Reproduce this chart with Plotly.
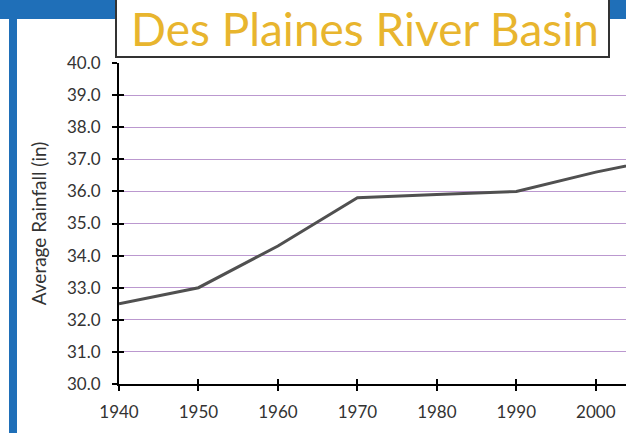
import plotly.graph_objects as go

# Data
years = [1940, 1950, 1960, 1970, 1980, 1990, 2000, 2010]
rainfall = [32.5, 33.0, 34.3, 35.8, 35.9, 36.0, 36.6, 37.1]
y_ticks = [30, 31, 32, 33, 34, 35, 36, 37, 38, 39, 40]
x_ticks = [1940, 1950, 1960, 1970, 1980, 1990, 2000]

W, H = 626, 433
L, R, T, B = 119, 0, 63, 49
pw, ph = W - L - R, H - T - B


def px(x):
    return (x - L) / pw


def py(y):
    return (H - B - y) / ph


blue = '#1f6fb8'
font = 'Lato'

fig = go.Figure()

fig.add_trace(go.Scatter(
    x=years, y=rainfall, mode='lines',
    line=dict(color='#505050', width=3),
    showlegend=False, hoverinfo='x+y'
))
# invisible copy so the overlay axis (inner half of the cross ticks) is drawn
fig.add_trace(go.Scatter(
    x=years, y=rainfall, mode='lines', xaxis='x2', yaxis='y2',
    line=dict(width=0), opacity=0, showlegend=False, hoverinfo='skip'
))

axis_common = dict(
    showline=True, linecolor='black', linewidth=2,
    ticks='outside', ticklen=5, tickwidth=2, tickcolor='black',
    tickfont=dict(family=font, size=17, color='#333333'),
    zeroline=False,
)

fig.update_layout(
    width=W, height=H,
    margin=dict(l=L, r=R, t=T, b=B),
    paper_bgcolor='white',
    plot_bgcolor='white',
    xaxis=dict(
        range=[1940, 2003.8], tickvals=x_ticks, showgrid=False,
        ticklabelstandoff=7, **axis_common
    ),
    yaxis=dict(
        range=[30, 40], tickvals=y_ticks, tickformat='.1f',
        showgrid=True, gridcolor='#bb98cf', gridwidth=1,
        ticklabelstandoff=8,
        title=dict(text='Average Rainfall (in)', standoff=15,
                   font=dict(family=font, size=19, color='#333333')),
        **axis_common
    ),
    xaxis2=dict(
        overlaying='x', anchor='y2', range=[1940, 2003.8], tickvals=x_ticks,
        showticklabels=False, showgrid=False, showline=False, zeroline=False,
        ticks='inside', ticklen=5, tickwidth=2, tickcolor='black'
    ),
    yaxis2=dict(
        overlaying='y', anchor='x2', range=[30, 40], tickvals=y_ticks,
        showticklabels=False, showgrid=False, showline=False, zeroline=False,
        ticks='inside', ticklen=5, tickwidth=2, tickcolor='black'
    ),
    shapes=[
        # top blue band
        dict(type='rect', xref='paper', yref='paper',
             x0=px(0), x1=px(W), y0=py(19), y1=py(0),
             fillcolor=blue, line=dict(width=0)),
        # left blue bar
        dict(type='rect', xref='paper', yref='paper',
             x0=px(9), x1=px(17), y0=py(H), y1=py(18),
             fillcolor=blue, line=dict(width=0)),
        # title box
        dict(type='rect', xref='paper', yref='paper',
             x0=px(116), x1=px(609), y0=py(57), y1=py(-5),
             fillcolor='white', line=dict(color='#333333', width=2)),
    ],
    annotations=[
        dict(text='Des Plaines River Basin', xref='paper', yref='paper',
             x=px(365), y=py(28), xanchor='center', yanchor='middle',
             showarrow=False,
             font=dict(family=font, size=46, color='#e8b52e')),
    ],
)

fig.write_html('out.html', config={'displayModeBar': False},
               post_script="document.body.style.margin='0';")
